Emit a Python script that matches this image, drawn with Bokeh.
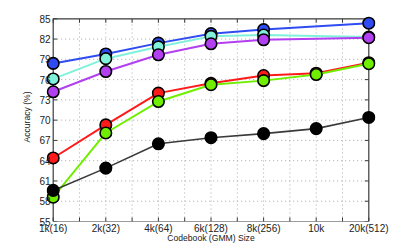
from bokeh.plotting import figure
from bokeh.models import Range1d, FixedTicker
from bokeh.embed import file_html
from bokeh.resources import INLINE

# ---- data ----
categories = ["1k(16)", "2k(32)", "4k(64)", "6k(128)", "8k(256)", "10k", "20k(512)"]
y_ticks = [55, 58, 61, 64, 67, 70, 73, 76, 79, 82, 85]
blue = [78.4, 79.8, 81.4, 82.8, 83.4, None, 84.35]
cyan = [76.1, 79.1, 80.85, 82.4, 82.6, None, 82.3]
purple = [74.2, 77.2, 79.67, 81.3, 81.9, None, 82.2]
red = [64.4, 69.3, 74.0, 75.45, 76.6, 76.95, 78.5]
green = [58.6, 68.1, 72.75, 75.25, 75.85, 76.75, 78.35]
black = [59.6, 62.9, 66.5, 67.4, 68.0, 68.75, 70.4]

xs = list(range(1, len(categories) + 1))
x_lo, x_hi = xs[0], xs[-1]
y_lo, y_hi = y_ticks[0], y_ticks[-1]

W, H = 407, 249
mb_l, mb_r, mb_t, mb_b = 46, 32, 12, 28
frame_w = W - mb_l - mb_r
frame_h = H - mb_t - mb_b
pad_l_px, pad_r_px, pad_t_px = 6.7, 6.7, 6.3
box_w = frame_w - pad_l_px - pad_r_px
box_h = frame_h - pad_t_px
ux = (x_hi - x_lo) / box_w
uy = (y_hi - y_lo) / box_h

p = figure(width=W, height=H,
           x_range=Range1d(x_lo - pad_l_px * ux, x_hi + pad_r_px * ux),
           y_range=Range1d(y_lo, y_hi + pad_t_px * uy),
           output_backend="svg", toolbar_location=None,
           min_border_left=mb_l, min_border_right=mb_r,
           min_border_top=mb_t, min_border_bottom=mb_b)
p.outline_line_color = None
p.grid.visible = False
p.background_fill_color = "white"
p.border_fill_color = "white"

font = "Liberation Sans"
for ax in (p.xaxis[0], p.yaxis[0]):
    ax.axis_line_color = None
    ax.major_tick_line_color = None
    ax.minor_tick_line_color = None
    ax.major_tick_in = 0
    ax.major_tick_out = 0
    ax.minor_tick_in = 0
    ax.minor_tick_out = 0
    ax.major_label_text_font = font
    ax.major_label_text_font_size = "10px"
    ax.major_label_text_color = "#222222"
    ax.axis_label_text_font = font
    ax.axis_label_text_font_size = "8.6px"
    ax.axis_label_text_font_style = "normal"
    ax.axis_label_text_color = "#222222"

p.xaxis.ticker = FixedTicker(ticks=xs)
p.xaxis.major_label_overrides = {x: c for x, c in zip(xs, categories)}
p.xaxis.major_label_standoff = 1
p.xaxis.axis_label = "Codebook (GMM) Size"
p.xaxis.axis_label_standoff = -4

p.yaxis.ticker = FixedTicker(ticks=y_ticks)
p.yaxis.major_label_standoff = -4
p.yaxis.axis_label = "Accuracy (%)"
p.yaxis.axis_label_standoff = 4

# grid (dotted)
half = [x_lo + 0.5 * i for i in range(1, 2 * (x_hi - x_lo))]
p.segment(x0=half, y0=[y_lo] * len(half), x1=half, y1=[y_hi] * len(half),
          line_color="#a8a8a8", line_width=1, line_dash="1 3")
inner_y = y_ticks[1:-1]
p.segment(x0=[x_lo] * len(inner_y), y0=inner_y, x1=[x_hi] * len(inner_y), y1=inner_y,
          line_color="#a8a8a8", line_width=1, line_dash="1 3")

# box
p.line([x_lo, x_hi, x_hi, x_lo, x_lo], [y_lo, y_lo, y_hi, y_hi, y_lo],
       line_color="#3a3a3a", line_width=1.2)

# inward ticks
tl = 4
allx = [x_lo + 0.5 * i for i in range(0, 2 * (x_hi - x_lo) + 1)]
p.segment(x0=allx, y0=[y_lo] * len(allx), x1=allx, y1=[y_lo + tl * uy] * len(allx),
          line_color="#3a3a3a", line_width=1)
p.segment(x0=allx, y0=[y_hi] * len(allx), x1=allx, y1=[y_hi - tl * uy] * len(allx),
          line_color="#3a3a3a", line_width=1)
p.segment(x0=[x_lo] * len(y_ticks), y0=y_ticks, x1=[x_lo + tl * ux] * len(y_ticks), y1=y_ticks,
          line_color="#3a3a3a", line_width=1)
p.segment(x0=[x_hi] * len(y_ticks), y0=y_ticks, x1=[x_hi - tl * ux] * len(y_ticks), y1=y_ticks,
          line_color="#3a3a3a", line_width=1)

series = [
    (blue, "#2f4cf2", "#2f4cf2", 2),
    (cyan, "#80f2dc", "#80f2dc", 2),
    (purple, "#b23ff0", "#b23ff0", 2),
    (red, "#ff1a1a", "#ff1a1a", 2),
    (green, "#70ee00", "#70ee00", 2),
    (black, "#3a3a3a", "#000000", 1.6),
]
for vals, lc, fc, lw in series:
    px = [x for x, v in zip(xs, vals) if v is not None]
    py = [v for v in vals if v is not None]
    p.line(px, py, line_color=lc, line_width=lw)
    p.scatter(px, py, size=11.5, fill_color=fc, line_color="#000000", line_width=1.6)

open("out.html", "w").write(file_html(p, INLINE))
